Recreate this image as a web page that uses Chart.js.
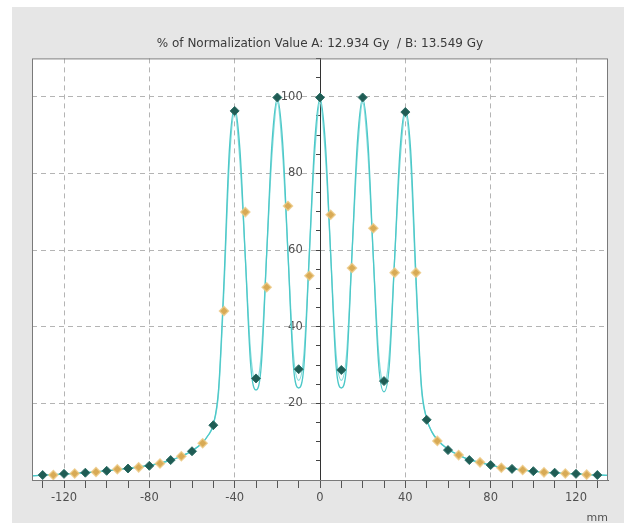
<!DOCTYPE html>
<html>
<head>
<meta charset="utf-8">
<script src="https://cdn.jsdelivr.net/npm/chart.js@4.4.0/dist/chart.umd.min.js"></script>
<style>
  html, body { margin: 0; padding: 0; background: #fff; }
  #wrap { width: 624px; height: 525px; }
</style>
</head>
<body>
<div id="wrap"><canvas id="profileChart" width="624" height="525"></canvas></div>
<script>
// calculated profiles (mm / %)
const curvePos = [-135, -130, -125, -120, -115, -110, -105, -100, -95, -90, -85, -80, -75, -70, -65, -60, -55, -52.5,
    -50, -47.5, -45, -42.5, -40, -37.5, -35, -32.5, -30, -27.5, -25, -22.5, -20, -17.5, -15, -12.5, -10, -7.5, -5, -2.5,
    0, 2.5, 5, 7.5, 10, 12.5, 15, 17.5, 20, 22.5, 25, 27.5, 30, 32.5, 35, 37.5, 40, 42.5, 45, 47.5, 50, 52.5,
    55, 60, 65, 70, 75, 80, 85, 90, 95, 100, 105, 110, 115, 120, 125, 130, 135];
const curveA = [1.1, 1.25, 1.4, 1.55, 1.7, 1.9, 2.1, 2.4, 2.7, 3.0, 3.4, 3.8, 4.4, 5.2, 6.2, 7.6, 9.8, 11.6,
    14.5, 24, 52, 86, 97, 86, 58, 30, 23.5, 30, 59, 88, 99.5, 88, 59, 30, 24, 30, 59, 88,
    99.5, 88, 59, 30, 24, 30, 59, 88, 99.5, 88, 58, 30, 23, 30, 58, 86, 96.5, 86, 53, 25, 16, 12.5,
    10.5, 8, 6.5, 5.3, 4.6, 3.9, 3.3, 2.9, 2.6, 2.3, 2.0, 1.9, 1.7, 1.6, 1.4, 1.3, 1.2];
const curveB = [1.1, 1.25, 1.4, 1.55, 1.7, 1.9, 2.1, 2.4, 2.7, 3.0, 3.4, 3.8, 4.4, 5.2, 6.2, 7.6, 9.8, 11.6,
    14.5, 23, 50, 83, 96, 83, 58, 33, 25.5, 33, 59, 85, 98.5, 85, 59, 33, 26, 33, 59, 85,
    98.5, 85, 59, 33, 26, 33, 59, 85, 98.5, 85, 58, 33, 25, 33, 58, 83, 95.5, 83, 51, 24, 16, 12.5,
    10.5, 8, 6.5, 5.3, 4.6, 3.9, 3.3, 2.9, 2.6, 2.3, 2.0, 1.9, 1.7, 1.6, 1.4, 1.3, 1.2];

// measured points
const measAPos = [-130, -120, -110, -100, -90, -80, -70, -60, -50, -40, -30, -20, -10, 0,
    10, 20, 30, 40, 50, 60, 70, 80, 90, 100, 110, 120, 130];
const measAVal = [1.3, 1.6, 1.9, 2.4, 3.0, 3.7, 5.2, 7.5, 14.3, 96.3, 26.5, 99.8, 28.9, 99.8,
    28.7, 99.8, 25.8, 96, 15.7, 7.8, 5.2, 3.9, 2.9, 2.3, 1.9, 1.6, 1.3];
const measBPos = [-125, -115, -105, -95, -85, -75, -65, -55, -45, -35, -25, -15, -5,
    5, 15, 25, 35, 45, 55, 65, 75, 85, 95, 105, 115, 125];
const measBVal = [1.3, 1.7, 2.1, 2.8, 3.3, 4.3, 6.2, 9.6, 44.1, 69.9, 50.3, 71.5, 53.3,
    69.2, 55.3, 65.7, 54.1, 54.1, 10.2, 6.5, 4.6, 3.2, 2.6, 2.0, 1.7, 1.4];

// axis ticks
const xTickValues = [-130, -120, -110, -100, -90, -80, -70, -60, -50, -40, -30, -20, -10, 0,
    10, 20, 30, 40, 50, 60, 70, 80, 90, 100, 110, 120, 130];
const xLabelStep = 40;
const yLabelStep = 20;

const chartTitle = '% of Normalization Value A: 12.934 Gy  / B: 13.549 Gy';

function toPoints(xs, ys) {
    return xs.map((x, i) => ({ x: x, y: ys[i] }));
}

const panelPlugin = {
    id: 'panel',
    beforeDraw(chart) {
        const { ctx, chartArea } = chart;
        ctx.save();
        ctx.fillStyle = '#e6e6e6';
        ctx.fillRect(12, 7, chart.width - 12, chart.height - 9);
        ctx.fillStyle = '#ffffff';
        ctx.fillRect(chartArea.left, chartArea.top, chartArea.right - chartArea.left, chartArea.bottom - chartArea.top);
        ctx.restore();
    },
    afterDraw(chart) {
        const { ctx, chartArea } = chart;
        ctx.save();
        ctx.strokeStyle = '#7a7a7a';
        ctx.lineWidth = 1;
        ctx.strokeRect(chartArea.left + 0.5, chartArea.top + 0.5,
            chartArea.right - chartArea.left - 1, chartArea.bottom - chartArea.top);
        ctx.restore();
    }
};

const textFont = 'DejaVu Sans';

new Chart(document.getElementById('profileChart').getContext('2d'), {
    type: 'line',
    data: {
        datasets: [{
            label: 'Measured A',
            data: toPoints(measAPos, measAVal),
            showLine: false,
            pointStyle: 'rectRot',
            pointRadius: 4.5,
            pointBackgroundColor: '#1f5c54',
            pointBorderColor: '#2f7068',
            pointBorderWidth: 1
        }, {
            label: 'Measured B',
            data: toPoints(measBPos, measBVal),
            showLine: false,
            pointStyle: 'rectRot',
            pointRadius: 4.5,
            pointBackgroundColor: '#d8aa55',
            pointBorderColor: 'rgba(236, 200, 130, 0.8)',
            pointBorderWidth: 1.5
        }, {
            label: 'Calculated A',
            data: toPoints(curvePos, curveA),
            borderColor: '#4cc8c8',
            borderWidth: 1.3,
            pointRadius: 0,
            cubicInterpolationMode: 'monotone'
        }, {
            label: 'Calculated B',
            data: toPoints(curvePos, curveB),
            borderColor: '#86dcdc',
            borderWidth: 1.3,
            pointRadius: 0,
            cubicInterpolationMode: 'monotone'
        }]
    },
    options: {
        responsive: false,
        animation: false,
        layout: {
            padding: { left: 32, right: 16, top: 0, bottom: 0 }
        },
        plugins: {
            legend: { display: false },
            tooltip: { enabled: false },
            title: {
                display: true,
                text: chartTitle,
                color: '#3a3a3a',
                font: { family: textFont, size: 12, weight: 'normal' },
                padding: { top: 37, bottom: 7 }
            }
        },
        scales: {
            x: {
                type: 'linear',
                min: -135,
                max: 135,
                afterBuildTicks: (scale) => {
                    scale.ticks = xTickValues.map(v => ({ value: v }));
                },
                afterFit: (scale) => {
                    scale.height = 45;
                },
                ticks: {
                    autoSkip: false,
                    maxRotation: 0,
                    padding: 3,
                    color: '#505050',
                    font: { family: textFont, size: 11.5 },
                    callback: (value) => (value % xLabelStep === 0 ? String(value) : '')
                },
                grid: {
                    color: (ctx) => (ctx.tick && ctx.tick.value % xLabelStep === 0 && ctx.tick.value !== 0 ? '#b4b4b4' : 'rgba(0,0,0,0)'),
                    tickColor: '#555',
                    tickLength: 8,
                    lineWidth: 1
                },
                border: { color: '#666', dash: [5, 4] },
                title: {
                    display: true,
                    text: 'mm',
                    align: 'end',
                    color: '#505050',
                    font: { family: textFont, size: 11 },
                    padding: { top: 0, bottom: 0 }
                }
            },
            y: {
                type: 'linear',
                position: { x: 0 },
                min: 0,
                max: 110,
                ticks: {
                    stepSize: 5,
                    autoSkip: false,
                    color: '#505050',
                    font: { family: textFont, size: 11.5 },
                    // labels sit left of the centred axis, so pad them on the right
                    callback: (value) => (value > 0 && value % yLabelStep === 0 ? String(value) + '\u2003\u2002' : '')
                },
                grid: {
                    color: (ctx) => (ctx.tick && ctx.tick.value > 0 && ctx.tick.value < 110 && ctx.tick.value % yLabelStep === 0 ? '#b4b4b4' : 'rgba(0,0,0,0)'),
                    tickColor: '#444',
                    tickLength: 4,
                    lineWidth: 1
                },
                border: { color: '#333', width: 1, dash: [5, 4] }
            }
        }
    },
    plugins: [panelPlugin]
});
</script>
</body>
</html>
